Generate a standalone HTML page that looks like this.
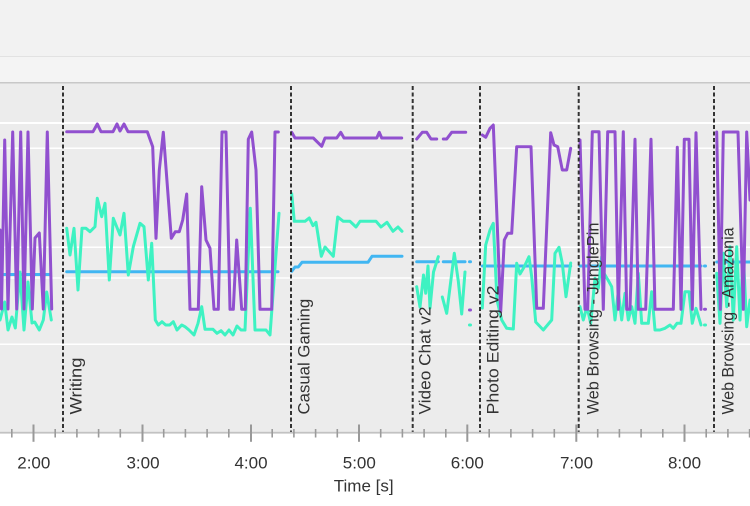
<!DOCTYPE html>
<html>
<head>
<meta charset="utf-8">
<style>
  html,body{margin:0;padding:0;background:#fff;}
  svg{display:block;}
  text{font-family:"Liberation Sans", sans-serif;}
</style>
</head>
<body>
<svg width="750" height="506" viewBox="0 0 750 506" xmlns="http://www.w3.org/2000/svg">
  <rect x="0" y="0" width="750" height="56" fill="#f2f2f2"/>
  <rect x="0" y="56" width="750" height="1.2" fill="#e2e2e2"/>
  <rect x="0" y="57.2" width="750" height="24.8" fill="#f4f4f4"/>
  <rect x="0" y="82" width="750" height="1.5" fill="#c8c8c8"/>
  <rect x="0" y="83.5" width="750" height="349" fill="#ececec"/>
  <g stroke="#ffffff">
    <line x1="0" y1="123" x2="750" y2="123" stroke-width="2"/>
    <line x1="0" y1="148.3" x2="750" y2="148.3" stroke-width="1.5"/>
    <line x1="0" y1="247.3" x2="750" y2="247.3" stroke-width="1.5"/>
    <line x1="0" y1="278" x2="750" y2="278" stroke-width="1.5"/>
    <line x1="0" y1="344.3" x2="750" y2="344.3" stroke-width="1.5"/>
  </g>

  <g fill="none" stroke-width="3" stroke-linejoin="round" stroke-linecap="round">
    <g stroke="#41b6f2">
      <polyline points="0,274.5 50,274.5"/>
      <polyline points="66.7,271.7 278,271.7"/>
      <polyline points="291.7,271.3 295,267 298.3,267 302,262.3 368,262.3 372,256.3 402,256.3"/>
      <polyline points="416.7,261.7 438.3,261.7"/>
      <polyline points="443.3,261.7 465,261.7"/>
      <polyline points="469.5,261.7 470.5,261.7"/>
      <polyline points="482.3,266 570.7,266"/>
      <polyline points="580,266 701,266"/>
      <polyline points="704.5,266 705.5,266"/>
      <polyline points="716.7,262 750,262"/>
    </g>
    <g stroke="#3ef2c2">
      <polyline points="0,320 4.7,302 8,330 12,317 15.3,328 20,272 24,330 28,282 32,323 34.7,322 39.3,330 43.3,320 46.7,292 51.3,320"/>
      <polyline points="66.7,228.3 70,255 74,228.3 78,290 82,228.3 86,228.3 90,231.7 95,226.7 97.3,198.3 101.7,216.7 105,203.3 109.3,280 113.3,218.3 120,235 124,213.3 128.3,275 133.3,246.7 140,223.3 144,226.7 148.3,280 151.7,243.3 155.3,320 158.3,325 162,321.7 165.7,325 169.7,325 173.3,321.7 177,330 181.7,325 185,326.7 189,330 194,335 198,323.3 201.7,306.7 205,329.3 213,329.3 217,333.3 221,330.7 225,335 229,330 233,335 237,326 241,330 245,330 250.3,208.3 255,330 266,330 270,335 279,213.3"/>
      <polyline points="291.7,193.7 294.3,221.3 305,221.3 309.3,218 313,225.7 316,222.3 321.3,256.3 325,247 333.3,256.3 337.7,217 343.3,221.3 350,221.3 356,227 360,221.3 376,221.3 381,227 387,222.3 393,231.3 398,227 402,231.3"/>
      <polyline points="416.7,286.7 420,307 423.5,275 425.7,293.3 428,266 430,308 433.5,272 438.3,256.7"/>
      <polyline points="442.3,297 446.7,313.3 454.3,253.3 458.3,281 461.7,314 465,272"/>
      <polyline points="469.5,325 470.5,325"/>
      <polyline points="482.3,308 485.7,245 490,230 493.3,223.3 497,300 501.7,320 506.7,328.3 513.3,329 516.7,263.3 520,274 524.3,266.7 529,256.7 531.7,276.7 535.7,322 543.3,330 551.7,320 555,253.3 559,247.3 562.3,263.3 566,296.7 570.7,263"/>
      <polyline points="580,306.7 583.3,320 587,306.7 590.7,323.3 595,278.3 598.3,288.3 601.7,256.7 604,273.3 608,280 611.7,286.7 615,320 618.3,291.7 621.7,320 625,293.3 628.3,320 631.7,306.7 635,323.3 638.3,273.3 641.7,323.3 648.3,323.3 651.7,291.7 655,330 660,330 665,328.3 670,325 673.3,328.3 677,323.3 681,323.3 685,291.7 689,291.7 692.3,323.3 696,308.3 701,325"/>
      <polyline points="704.5,325 705.5,325"/>
      <polyline points="716.7,273.3 720,323.3 723.3,253.3 726.7,306.7 730,246.7 733.3,320 736.7,246.7 740,320 743.3,253.3 746.7,326.7 750,300"/>
    </g>
    <g stroke="#9150cf">
      <polyline points="0,230 1.5,309 4.7,140 8,309 12.7,132 16.7,309 20.7,132 24,309 28,132 32.3,309 35,238 39.3,233 43.3,309 47.3,132 51.7,309"/>
      <polyline points="66.7,131.7 93,131.7 97.3,124 101,131.7 113,131.7 117,124 120,131 124,124 128,131.7 147.3,131.7 152.7,146.7 156,238.3 159.3,170 163.3,132.3 171.3,238.3 175.3,231.7 179.3,231.7 182.7,220 186.7,194 190,309.3 198.3,309.3 201.7,186.7 206,240 210,248.3 214,309.3 218.3,309.3 222,132 226,132 230,309.3 233.3,309.3 236.7,240 241.7,309.3 245.3,309.3 248.3,139.3 251.7,132 256,170 260,309.3 271.7,309.3 275,132 278.3,132"/>
      <polyline points="291.7,132.3 295,138 313.3,138 321.7,146.3 325,138 336.7,138 340.7,132.3 344,138 376.7,138 379.3,132.3 381.7,138 401.7,138"/>
      <polyline points="416.7,139 422.3,132.3 426.7,132.3 431,139 436.7,139"/>
      <polyline points="443.3,139 446.7,139 451.7,132.3 465.7,132.3"/>
      <polyline points="469.5,310 470.5,310"/>
      <polyline points="482.3,135 485.7,137.3 490,128.3 493.3,125 500.7,311.7 504.3,240 507.7,233.3 511.7,233.3 516.7,146.7 531,146.7 536.7,308.3 543.3,308.3 550.7,132.7 554,145 557.7,146.7 562.3,170 566.7,170 570.7,148.3"/>
      <polyline points="580,140 585,309.3 587.7,309.3 592.3,131.7 599,131.7 603.3,309.3 607.7,131.7 615,131.7 618.3,309.3 623.3,131.7 626.7,309.3 630,309.3 635,139.3 638.3,309.3 645.7,309.3 651,139.3 655,309.3 673.3,309.3 677.3,147.3 681,309.3 684.3,139.3 689,139.3 692.3,309.3 696,132.7 701,309.3"/>
      <polyline points="704.5,309.3 705.5,309.3"/>
      <polyline points="716.7,132 720.3,309.3 723.3,132 738,132 743.3,309.3 746.7,132 750,200"/>
    </g>
  </g>

  <g stroke="#333333" stroke-width="2" stroke-dasharray="4,2.5">
    <line x1="63" y1="86" x2="63" y2="432"/>
    <line x1="291" y1="86" x2="291" y2="432"/>
    <line x1="412.7" y1="86" x2="412.7" y2="432"/>
    <line x1="480" y1="86" x2="480" y2="432"/>
    <line x1="578.7" y1="86" x2="578.7" y2="432"/>
    <line x1="714" y1="86" x2="714" y2="432"/>
  </g>

  <g fill="#333333" font-size="16.5">
    <text transform="translate(81.5,414.5) rotate(-90)" textLength="57" lengthAdjust="spacingAndGlyphs">Writing</text>
    <text transform="translate(309.5,414.5) rotate(-90)" textLength="115.7" lengthAdjust="spacingAndGlyphs">Casual Gaming</text>
    <text transform="translate(430.5,414.5) rotate(-90)" textLength="108" lengthAdjust="spacingAndGlyphs">Video Chat v2</text>
    <text transform="translate(498.5,414.5) rotate(-90)" textLength="129" lengthAdjust="spacingAndGlyphs">Photo Editing v2</text>
    <text transform="translate(598.5,414.5) rotate(-90)" textLength="192" lengthAdjust="spacingAndGlyphs">Web Browsing - JunglePin</text>
    <text transform="translate(733.5,414.5) rotate(-90)" textLength="187" lengthAdjust="spacingAndGlyphs">Web Browsing - Amazonia</text>
  </g>

  <rect x="0" y="433.5" width="750" height="72.5" fill="#ffffff"/>
  <rect x="0" y="431.8" width="750" height="1.8" fill="#c2c2c2"/>
  <g stroke="#9a9a9a" stroke-width="1.6">
    <line x1="11.8" y1="429" x2="11.8" y2="437.5"/>
    <line x1="55.2" y1="429" x2="55.2" y2="437.5"/>
    <line x1="76.9" y1="429" x2="76.9" y2="437.5"/>
    <line x1="98.6" y1="429" x2="98.6" y2="437.5"/>
    <line x1="120.3" y1="429" x2="120.3" y2="437.5"/>
    <line x1="163.7" y1="429" x2="163.7" y2="437.5"/>
    <line x1="185.4" y1="429" x2="185.4" y2="437.5"/>
    <line x1="207.1" y1="429" x2="207.1" y2="437.5"/>
    <line x1="228.8" y1="429" x2="228.8" y2="437.5"/>
    <line x1="272.2" y1="429" x2="272.2" y2="437.5"/>
    <line x1="293.9" y1="429" x2="293.9" y2="437.5"/>
    <line x1="315.6" y1="429" x2="315.6" y2="437.5"/>
    <line x1="337.3" y1="429" x2="337.3" y2="437.5"/>
    <line x1="380.7" y1="429" x2="380.7" y2="437.5"/>
    <line x1="402.4" y1="429" x2="402.4" y2="437.5"/>
    <line x1="424.1" y1="429" x2="424.1" y2="437.5"/>
    <line x1="445.8" y1="429" x2="445.8" y2="437.5"/>
    <line x1="489.2" y1="429" x2="489.2" y2="437.5"/>
    <line x1="510.9" y1="429" x2="510.9" y2="437.5"/>
    <line x1="532.6" y1="429" x2="532.6" y2="437.5"/>
    <line x1="554.3" y1="429" x2="554.3" y2="437.5"/>
    <line x1="597.7" y1="429" x2="597.7" y2="437.5"/>
    <line x1="619.4" y1="429" x2="619.4" y2="437.5"/>
    <line x1="641.1" y1="429" x2="641.1" y2="437.5"/>
    <line x1="662.8" y1="429" x2="662.8" y2="437.5"/>
    <line x1="706.2" y1="429" x2="706.2" y2="437.5"/>
    <line x1="727.9" y1="429" x2="727.9" y2="437.5"/>
    <line x1="749.6" y1="429" x2="749.6" y2="437.5"/>
  </g>
  <g stroke="#999999" stroke-width="2">
    <line x1="33.5" y1="424.5" x2="33.5" y2="441.8"/>
    <line x1="142.5" y1="424.5" x2="142.5" y2="441.8"/>
    <line x1="251" y1="424.5" x2="251" y2="441.8"/>
    <line x1="359" y1="424.5" x2="359" y2="441.8"/>
    <line x1="467.3" y1="424.5" x2="467.3" y2="441.8"/>
    <line x1="576.3" y1="424.5" x2="576.3" y2="441.8"/>
    <line x1="684.5" y1="424.5" x2="684.5" y2="441.8"/>
  </g>
  <g fill="#333333" font-size="17" text-anchor="middle">
    <text x="33.8" y="468.3">2:00</text>
    <text x="143" y="468.3">3:00</text>
    <text x="251" y="468.3">4:00</text>
    <text x="359.3" y="468.3">5:00</text>
    <text x="467.3" y="468.3">6:00</text>
    <text x="576.5" y="468.3">7:00</text>
    <text x="684.5" y="468.3">8:00</text>
  </g>
  <text x="363.7" y="491.5" fill="#333333" font-size="17" text-anchor="middle">Time [s]</text>
</svg>
</body>
</html>
